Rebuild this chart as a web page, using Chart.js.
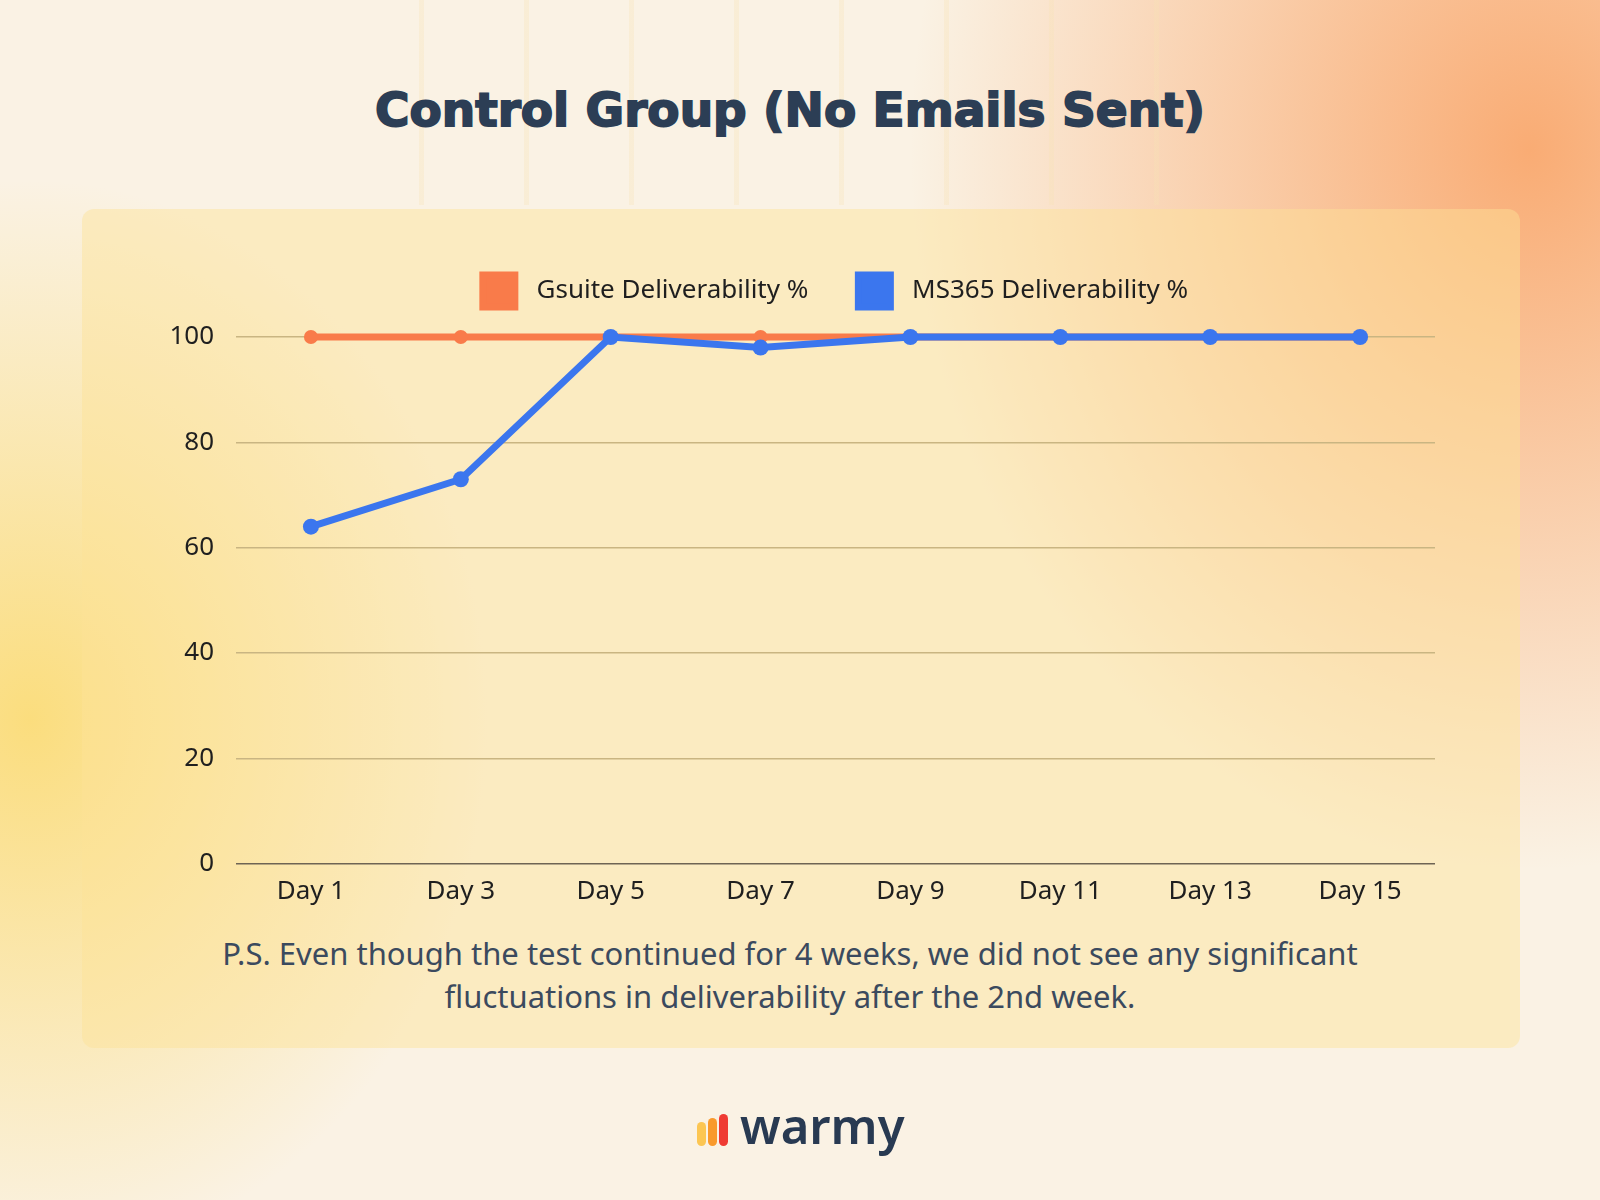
<!DOCTYPE html>
<html>
<head>
<meta charset="utf-8">
<script src="https://cdn.jsdelivr.net/npm/chart.js@4.4.1/dist/chart.umd.min.js"></script>
<style>
  html, body { margin: 0; padding: 0; }
  body {
    width: 1600px; height: 1200px; position: relative; overflow: hidden;
    background:
      radial-gradient(ellipse 620px 720px at 1530px 150px, rgba(249,168,110,0.95), rgba(249,168,110,0) 100%),
      radial-gradient(ellipse 460px 540px at 30px 720px, rgba(251,220,120,0.95), rgba(251,220,120,0) 100%),
      #faf2e4;
    font-family: "Noto Sans", sans-serif;
  }
  .window {
    position: absolute; left: 400px; top: 0; width: 800px; height: 205px;
    background:
      repeating-linear-gradient(90deg, rgba(247,226,180,0) 0px, rgba(247,226,180,0) 19px, rgba(247,226,180,0.3) 19px, rgba(247,226,180,0.3) 24px, rgba(247,226,180,0) 24px, rgba(247,226,180,0) 105px);
  }
  .title {
    position: absolute; left: 0; width: 1580px; top: 82px; text-align: center;
    font-family: "DejaVu Sans", sans-serif; font-weight: 900; font-size: 47px;
    color: #2c3e55; -webkit-text-stroke: 1.8px #2c3e55;
  }
  .panel {
    position: absolute; left: 82px; top: 209px; width: 1438px; height: 839px;
    border-radius: 12px; background: rgba(252, 226, 150, 0.45);
  }
  #wrap { position: absolute; left: 0; top: 0; width: 1600px; height: 930px; }
  .note {
    position: absolute; left: 0; width: 1580px; top: 932px; text-align: center;
    font-size: 31px; line-height: 43px; color: #3b4a5e;
  }
  .logo {
    position: absolute; left: 697px; top: 1100px; height: 60px; display: flex; align-items: center;
  }
  .bars { display: flex; align-items: flex-end; gap: 2px; margin-right: 12px; height: 32px; }
  .bars span { display: block; width: 9px; border-radius: 5px; }
  .brand { font-size: 49px; font-weight: 600; color: #283a52; line-height: 1; margin-top: -10px; }
</style>
</head>
<body>
<div class="window"></div>
<div class="title">Control Group (No Emails Sent)</div>
<div class="panel"></div>
<div id="wrap"><canvas id="chart"></canvas></div>
<div class="note">P.S. Even though the test continued for 4 weeks, we did not see any significant<br>fluctuations in deliverability after the 2nd week.</div>
<div class="logo">
  <div class="bars">
    <span style="height:24px;background:#fcc652"></span>
    <span style="height:28px;background:#f99a2c"></span>
    <span style="height:32px;background:#ef3b33"></span>
  </div>
  <div class="brand">warmy</div>
</div>
<script>
const days = ["Day 1", "Day 3", "Day 5", "Day 7", "Day 9", "Day 11", "Day 13", "Day 15"];
const gsuite = [100, 100, 100, 100, 100, 100, 100, 100];
const ms365 = [64, 73, 100, 98, 100, 100, 100, 100];
const yTicks = [0, 20, 40, 60, 80, 100];

const orange = "#f97b4a";
const blue = "#3b76ee";

// extra room under the legend row
const legendGap = {
  id: "legendGap",
  beforeLayout(chart) {
    const lg = chart.legend;
    if (lg && !lg._gapped) {
      const fit = lg.fit;
      lg.fit = function () { fit.call(this); this.height += 20; };
      lg._gapped = true;
    }
  }
};

new Chart(document.getElementById("chart"), {
  type: "line",
  data: {
    labels: days,
    datasets: [
      {
        label: "Gsuite Deliverability %",
        data: gsuite,
        borderColor: orange,
        backgroundColor: orange,
        borderWidth: 7,
        pointRadius: 7,
        pointBorderWidth: 0,
        clip: false,
        order: 1
      },
      {
        label: "MS365 Deliverability %",
        data: ms365,
        borderColor: blue,
        backgroundColor: blue,
        borderWidth: 7,
        pointRadius: 8,
        pointBorderWidth: 0,
        clip: false,
        order: 0
      }
    ]
  },
  plugins: [legendGap],
  options: {
    responsive: true,
    maintainAspectRatio: false,
    animation: false,
    layout: { padding: { top: 225, right: 165, bottom: 11, left: 0 } },
    plugins: {
      tooltip: { enabled: false },
      legend: {
        position: "top",
        fullSize: false,
        labels: {
          boxWidth: 32,
          boxHeight: 32,
          padding: 50,
          color: "#1f1f1f",
          font: { family: "Noto Sans", size: 26 },
          sort: (a, b) => a.datasetIndex - b.datasetIndex,
          generateLabels: (chart) => Chart.defaults.plugins.legend.labels.generateLabels(chart)
            .map(item => ({ ...item, text: "\u2006\u2006" + item.text }))
        }
      }
    },
    scales: {
      x: {
        offset: true,
        grid: { display: false, drawTicks: false },
        border: { display: false },
        ticks: { color: "#1f1f1f", padding: 12, font: { family: "Noto Sans", size: 26 } }
      },
      y: {
        min: 0,
        max: 100,
        afterBuildTicks: (scale) => { scale.ticks = yTicks.map(v => ({ value: v })); },
        afterFit: (scale) => { scale.width = 236; },
        grid: {
          drawTicks: false,
          lineWidth: 1.5,
          color: (ctx) => ctx.tick && ctx.tick.value === 0 ? "#6e6454" : "#c9b582"
        },
        border: { display: false },
        ticks: { color: "#1f1f1f", padding: 22, font: { family: "Noto Sans", size: 26 } }
      }
    }
  }
});
</script>
</body>
</html>
